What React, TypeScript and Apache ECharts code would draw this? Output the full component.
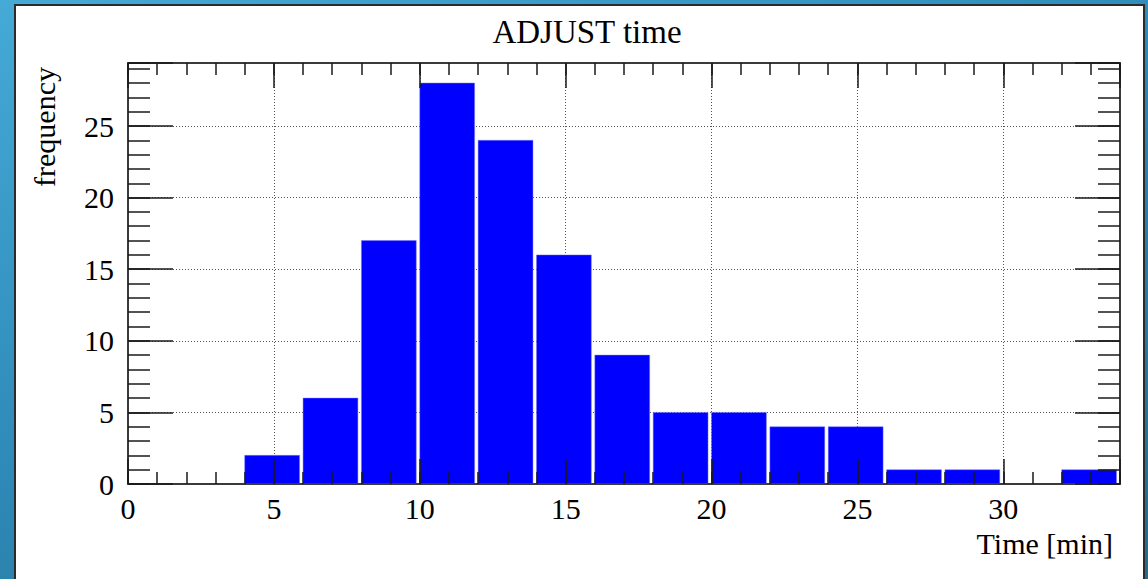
import React, { useEffect, useRef } from "react";
import * as echarts from "echarts";

// ---- data ----
const binEdges = [0, 2, 4, 6, 8, 10, 12, 14, 16, 18, 20, 22, 24, 26, 28, 30, 32, 34];
const counts = [0, 0, 2, 6, 17, 28, 24, 16, 9, 5, 5, 4, 4, 1, 1, 0, 1];
const titleText = "ADJUST time";
const xTitle = "Time [min]";
const yTitle = "frequency";
const xMin = 0;
const xMax = 34;
const yMin = 0;
const yMax = 29.4;
const majorStep = 5;
const minorStep = 1;

const FONT = '"Liberation Serif", "Times New Roman", Times, serif';

export default function App() {
  const ref = useRef<HTMLDivElement>(null);

  useEffect(() => {
    if (!ref.current) return;
    const chart = echarts.init(ref.current, null, { renderer: "svg" });

    const frame = { show: true, onZero: false, lineStyle: { color: "#3a3a3a", width: 2 } };
    const noLine = { show: false, onZero: false };
    const tickStyle = { color: "#1a1a1a", width: 1.5 };
    const labelFmt = (v: number) => (Math.abs(v % majorStep) < 1e-9 ? String(v) : "");
    const gridDots = { show: true, lineStyle: { color: "#555", width: 1, type: [1, 2] } };

    const xAxisBase = { type: "value", min: xMin, max: xMax, splitLine: { show: false } };
    const yAxisBase = { type: "value", min: yMin, max: yMax, splitLine: { show: false } };

    const xAxes = [
      {
        ...xAxisBase, position: "bottom", interval: majorStep, z: 10,
        axisLine: frame,
        axisTick: { show: true, inside: true, length: 25, lineStyle: tickStyle },
        axisLabel: { show: true, margin: 9, color: "#000", fontFamily: FONT, fontSize: 30, formatter: labelFmt },
      },
      {
        ...xAxisBase, position: "bottom", interval: minorStep, z: 10,
        axisLine: noLine,
        axisTick: { show: true, inside: true, length: 12, lineStyle: tickStyle },
        axisLabel: { show: false },
      },
      {
        ...xAxisBase, position: "top", interval: majorStep, z: 10,
        axisLine: frame,
        axisTick: { show: true, inside: true, length: 25, lineStyle: tickStyle },
        axisLabel: { show: false },
      },
      {
        ...xAxisBase, position: "top", interval: minorStep, z: 10,
        axisLine: noLine,
        axisTick: { show: true, inside: true, length: 12, lineStyle: tickStyle },
        axisLabel: { show: false },
      },
      {
        ...xAxisBase, position: "bottom", interval: majorStep, z: 0,
        axisLine: noLine, axisTick: { show: false }, axisLabel: { show: false },
        splitLine: gridDots,
      },
    ];

    const yAxes = [
      {
        ...yAxisBase, position: "left", interval: majorStep, z: 10,
        axisLine: frame,
        axisTick: { show: true, inside: true, length: 45, lineStyle: tickStyle },
        axisLabel: { show: true, margin: 14, color: "#000", fontFamily: FONT, fontSize: 30, formatter: labelFmt },
      },
      {
        ...yAxisBase, position: "left", interval: minorStep, z: 10,
        axisLine: noLine,
        axisTick: { show: true, inside: true, length: 22, lineStyle: tickStyle },
        axisLabel: { show: false },
      },
      {
        ...yAxisBase, position: "right", interval: majorStep, z: 10,
        axisLine: frame,
        axisTick: { show: true, inside: true, length: 45, lineStyle: tickStyle },
        axisLabel: { show: false },
      },
      {
        ...yAxisBase, position: "right", interval: minorStep, z: 10,
        axisLine: noLine,
        axisTick: { show: true, inside: true, length: 22, lineStyle: tickStyle },
        axisLabel: { show: false },
      },
      {
        ...yAxisBase, position: "left", interval: majorStep, z: 0,
        axisLine: noLine, axisTick: { show: false }, axisLabel: { show: false },
        splitLine: gridDots,
      },
    ];

    const barData = counts.map((c, i) => [binEdges[i], binEdges[i + 1], c]);

    chart.setOption({
      animation: false,
      backgroundColor: "transparent",
      grid: { left: 128, right: 28, top: 63, bottom: 95, containLabel: false },
      xAxis: xAxes,
      yAxis: yAxes,
      series: [
        {
          type: "custom",
          xAxisIndex: 0,
          yAxisIndex: 0,
          z: 2,
          data: barData,
          encode: { x: [0, 1], y: 2 },
          renderItem: (_params: any, api: any) => {
            const p0 = api.coord([api.value(0), api.value(2)]);
            const p1 = api.coord([api.value(1), 0]);
            const h = p1[1] - p0[1];
            if (h <= 0) return null;
            return {
              type: "rect",
              shape: { x: p0[0], y: p0[1], width: p1[0] - p0[0] - 3.5, height: h },
              style: { fill: "#0000ff", stroke: "rgba(120,120,255,0.6)", lineWidth: 0.8 },
            };
          },
        },
      ],
      graphic: [
        {
          type: "text", x: 587, y: 32, z: 20,
          style: { text: titleText, fontFamily: FONT, fontSize: 33, fill: "#000", align: "center", verticalAlign: "middle" },
        },
        {
          type: "text", x: 1113, y: 543, z: 20,
          style: { text: xTitle, fontFamily: FONT, fontSize: 30, fill: "#000", align: "right", verticalAlign: "middle" },
        },
        {
          type: "text", x: 44, y: 67, rotation: Math.PI / 2, z: 20,
          style: { text: yTitle, fontFamily: FONT, fontSize: 30, fill: "#000", align: "right", verticalAlign: "middle" },
        },
      ],
    });

    return () => chart.dispose();
  }, []);

  return (
    <div
      style={{
        position: "fixed",
        left: 0,
        top: 0,
        width: 1148,
        height: 579,
        overflow: "hidden",
        background: "linear-gradient(160deg, #45aad6 0%, #2d88b6 50%, #2a6a86 100%)",
      }}
    >
      <div
        style={{
          position: "absolute",
          left: 14,
          top: 4,
          width: 1131,
          height: 620,
          background: "#ffffff",
          border: "2px solid #2b2b2b",
          boxSizing: "border-box",
        }}
      />
      <div ref={ref} style={{ position: "absolute", left: 0, top: 0, width: 1148, height: 579 }} />
    </div>
  );
}
